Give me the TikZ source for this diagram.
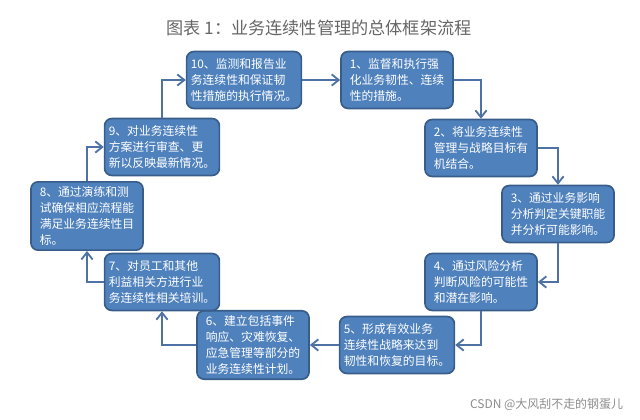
\documentclass[tikz,border=0pt]{standalone}
\usepackage{fontspec}
\setmainfont{Noto Sans CJK SC}
\usetikzlibrary{arrows.meta, positioning}

\definecolor{boxblue}{HTML}{4F81BD}
\definecolor{boxedge}{HTML}{385D8A}
\definecolor{arrowblue}{HTML}{4D72A3}

\begin{document}
\begin{tikzpicture}[x=0.025cm, y=-0.025cm,
    >={Straight Barb[length=5pt,width=8pt]},
    stage/.style={draw=boxedge, line width=1.2pt, fill=boxblue, rounded corners=5pt,
      text=white, align=left, minimum width=2.8cm, minimum height=1.42cm,
      font=\fontsize{8.4}{11.6}\selectfont, inner sep=3pt},
    flow/.style={->, draw=arrowblue, line width=1.3pt}]

    \useasboundingbox (0,0) rectangle (640,420);

    \node[text=black!60, font=\fontsize{12.2}{14}\selectfont] (title) at (319,28)
      {图表 1：业务连续性管理的总体框架流程};

    \node[stage] (s10) at (244,80) {10、监测和报告业\\务连续性和保证韧\\性措施的执行情况。};
    \node[stage] (s1) at (397,80) {1、监督和执行强\\化业务韧性、连续\\性的措施。};
    \node[stage] (s2) at (481,148) {2、将业务连续性\\管理与战略目标有\\机结合。};
    \node[stage] (s3) at (558,214) {3、通过业务影响\\分析判定关键职能\\并分析可能影响。};
    \node[stage] (s4) at (481,282) {4、通过风险分析\\判断风险的可能性\\和潜在影响。};
    \node[stage] (s5) at (397,345) {5、形成有效业务\\连续性战略来达到\\韧性和恢复的目标。};
    \node[stage, minimum height=1.5cm] (s6) at (253,345) {6、建立包括事件\\响应、灾难恢复、\\应急管理等部分的\\业务连续性计划。};
    \node[stage] (s7) at (162,282) {7、对员工和其他\\利益相关方进行业\\务连续性相关培训。};
    \node[stage, minimum height=1.55cm] (s8) at (87,216) {8、通过演练和测\\试确保相应流程能\\满足业务连续性目\\标。};
    \node[stage] (s9) at (162,147) {9、对业务连续性\\方案进行审查、更\\新以反映最新情况。};

    \draw[flow] (s10) -- (s1);
    \draw[flow] (s1.east) -| (s2.north);
    \draw[flow] (s2.east) -| (s3.north);
    \draw[flow] (s3.south) |- (s4.east);
    \draw[flow] (s4.south) |- (s5.east);
    \draw[flow] (s5) -- (s6);
    \draw[flow] (s6.west) -| (s7.south);
    \draw[flow] (s7.west) -| (s8.south);
    \draw[flow] (s8.north) |- (s9.west);
    \draw[flow] (s9.north) |- (s10.west);

    \node[text=black!45, font=\fontsize{8.5}{10}\selectfont, anchor=east] (mark) at (628,404)
      {CSDN @大风刮不走的钢蛋儿};
  \end{tikzpicture}
\end{document}
